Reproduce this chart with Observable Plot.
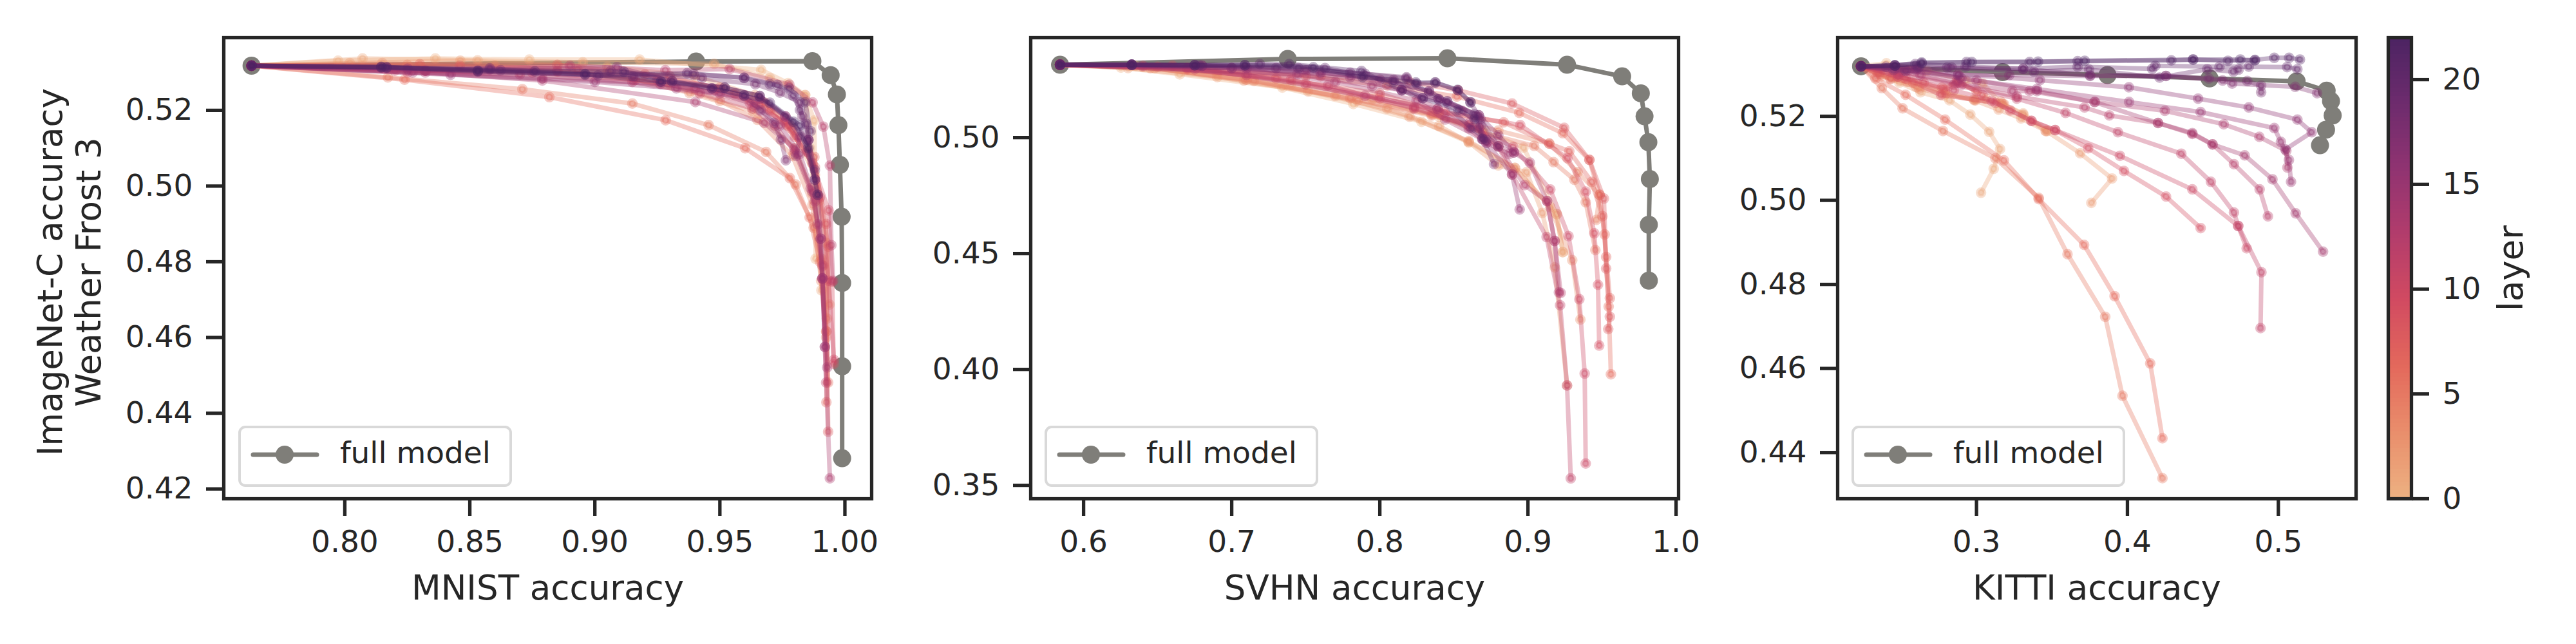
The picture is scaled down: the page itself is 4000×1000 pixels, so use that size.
<!DOCTYPE html>
<html>
<head>
<meta charset="utf-8">
<script src="https://cdn.jsdelivr.net/npm/d3@7"></script>
<script src="https://cdn.jsdelivr.net/npm/@observablehq/plot@0.6"></script>
<style>
  body { margin: 0; background: #fff; }
  #fig { position: relative; width: 4000px; height: 1000px; overflow: hidden; font-family: "DejaVu Sans"; color: #262626; }
  .panel { position: absolute; top: 0; }
  .panel svg { max-width: none; }
  .legend { position: absolute; top: 663px; height: 87px; width: 417px; box-sizing: content-box; border: 4px solid #d9d9d9; border-radius: 11px; background: #fff; margin: -2px; }
  .legend svg { position: absolute; left: 13px; top: 13px; }
  .legend span { position: absolute; left: 154px; top: 9px; font-size: 47px; line-height: 58px; white-space: nowrap; }
</style>
</head>
<body>
<div id="fig"></div>
<script>
const flare = ["#edb081", "#e98d6b", "#e3685c", "#d14a61", "#b13c6c", "#8f3371", "#6c2b6d", "#4b2362"]
const gray = "#7f7e79"
const ink = "#262626"

// values, curve index = layer
const mnistFull = [[.7627,.5318],[.9405,.5329],[.9870,.5330],[.9943,.5293],[.9968,.5242],[.9974,.5161],[.9980,.5056],[.9987,.4919],[.9989,.4744],[.9989,.4524],[.9989,.4281]]
const mnistCurves = [
  [[.7627,.5318],[.7973,.5331],[.8362,.5337],[.8738,.5334],[.9179,.5334],[.9665,.5307],[.9773,.5272],[.9841,.5240],[.9877,.5173],[.9882,.5000],[.9883,.4808]],
  [[.7627,.5318],[.8071,.5337],[.8531,.5332],[.8952,.5327],[.9477,.5323],[.9700,.5285],[.9841,.5240],[.9860,.5100],[.9895,.4960],[.9906,.4725]],
  [[.7627,.5318],[.8020,.5325],[.8462,.5331],[.9050,.5315],[.9400,.5290],[.9640,.5240],[.9780,.5160],[.9880,.5030],[.9925,.4850],[.9938,.4687]],
  [[.7627,.5318],[.8150,.5325],[.8600,.5318],[.9050,.5300],[.9378,.5246],[.9631,.5198],[.9800,.5100],[.9870,.4980],[.9915,.4790],[.9928,.4650]],
  [[.7627,.5318],[.8250,.5320],[.8850,.5305],[.9300,.5270],[.9500,.5225],[.9650,.5175],[.9790,.5080],[.9870,.4950],[.9905,.4750],[.9925,.4600]],
  [[.7627,.5318],[.8172,.5287],[.8710,.5256],[.9150,.5218],[.9455,.5161],[.9685,.5090],[.9803,.5004],[.9875,.4890],[.9906,.4808],[.9926,.4616]],
  [[.7627,.5318],[.8239,.5281],[.8818,.5235],[.9283,.5174],[.9601,.5100],[.9780,.5021],[.9859,.4917],[.9900,.4800],[.9925,.4616],[.9933,.4481]],
  [[.7627,.5318],[.8300,.5322],[.8850,.5320],[.9200,.5295],[.9500,.5260],[.9680,.5220],[.9790,.5150],[.9878,.5077],[.9933,.4840],[.9926,.4429]],
  [[.7627,.5318],[.8460,.5318],[.8930,.5308],[.9300,.5290],[.9560,.5245],[.9700,.5200],[.9800,.5130],[.9880,.5050],[.9925,.4900],[.9933,.4351]],
  [[.7627,.5318],[.8322,.5305],[.8850,.5303],[.9250,.5280],[.9480,.5255],[.9660,.5215],[.9770,.5160],[.9870,.5060],[.9935,.4936],[.9949,.4747],[.9955,.4530]],
  [[.7627,.5318],[.8200,.5305],[.8750,.5300],[.9160,.5280],[.9400,.5258],[.9620,.5220],[.9760,.5170],[.9850,.5090],[.9900,.4970],[.9935,.4750],[.9956,.4541]],
  [[.7627,.5318],[.8251,.5300],[.8700,.5295],[.9150,.5275],[.9420,.5245],[.9630,.5205],[.9720,.5160],[.9800,.5090],[.9880,.4960],[.9910,.4790],[.9925,.4481]],
  [[.7627,.5318],[.8322,.5305],[.8900,.5318],[.9282,.5306],[.9539,.5309],[.9778,.5268],[.9871,.5221],[.9914,.5157],[.9940,.5054],[.9946,.4844],[.9953,.4750]],
  [[.7627,.5318],[.8322,.5300],[.8790,.5279],[.9402,.5222],[.9678,.5167],[.9798,.5099],[.9863,.4994],[.9891,.4899],[.9910,.4756],[.9920,.4575],[.9940,.4228]],
  [[.7627,.5318],[.8271,.5300],[.8790,.5285],[.9262,.5270],[.9500,.5245],[.9640,.5215],[.9740,.5160],[.9820,.5085],[.9870,.4985],[.9903,.4861],[.9910,.4756],[.9929,.4521]],
  [[.7627,.5318],[.8423,.5294],[.9000,.5275],[.9326,.5258],[.9660,.5230],[.9762,.5184],[.9854,.5122],[.9880,.5017],[.9891,.4977],[.9903,.4861],[.9910,.4756],[.9920,.4575]],
  [[.7627,.5318],[.8251,.5310],[.8580,.5308],[.9088,.5314],[.9309,.5277],[.9519,.5260],[.9659,.5238],[.9762,.5184],[.9820,.5130],[.9805,.5080]],
  [[.7627,.5318],[.8167,.5312],[.8532,.5303],[.9153,.5289],[.9264,.5276],[.9468,.5258],[.9597,.5239],[.9663,.5200],[.9717,.5167],[.9744,.5123],[.9764,.5068]],
  [[.7627,.5318],[.8146,.5313],[.8623,.5306],[.9063,.5303],[.9428,.5285],[.9642,.5269],[.9740,.5247],[.9820,.5221],[.9829,.5184],[.9854,.5122],[.9880,.5042]],
  [[.7627,.5318],[.8167,.5313],[.8580,.5311],[.9013,.5292],[.9395,.5296],[.9597,.5286],[.9730,.5267],[.9794,.5239],[.9820,.5201],[.9846,.5164],[.9854,.5122]],
  [[.7627,.5318],[.8146,.5314],[.8532,.5303],[.8961,.5294],[.9369,.5298],[.9597,.5286],[.9700,.5269],[.9777,.5258],[.9841,.5221],[.9863,.5145]],
  [[.7627,.5318],[.8167,.5314],[.8760,.5303],[.9116,.5302],[.9309,.5277],[.9468,.5258],[.9597,.5239],[.9700,.5220],[.9820,.5160],[.9880,.5017]],
  [[.7627,.5318],[.8146,.5315],[.8532,.5305],[.8961,.5296],[.9264,.5276],[.9519,.5260],[.9659,.5238],[.9794,.5170],[.9854,.5100],[.9891,.4977]]
]

const svhnFull = [[.5841,.5314],[.7378,.5339],[.8456,.5342],[.9264,.5314],[.9636,.5264],[.9762,.5191],[.9787,.5092],[.9813,.4980],[.9823,.4821],[.9816,.4624],[.9816,.4383]]
const svhnCurves = [
  [[.5841,.5314],[.6252,.5302],[.6649,.5273],[.7342,.5216],[.7821,.5145],[.8281,.5068],[.8600,.4980],[.8912,.4869],[.9194,.4670],[.9235,.4506]],
  [[.5841,.5314],[.6350,.5310],[.6900,.5280],[.7400,.5230],[.7950,.5165],[.8400,.5090],[.8690,.5030],[.8970,.4957],[.9194,.4670],[.9235,.4506]],
  [[.5841,.5314],[.6300,.5300],[.6902,.5261],[.7515,.5199],[.8050,.5125],[.8400,.5050],[.8600,.4980],[.8800,.4880],[.8991,.4851],[.9097,.4675],[.9181,.4440],[.9264,.3931]],
  [[.5841,.5314],[.6480,.5300],[.7082,.5246],[.7700,.5180],[.8200,.5090],[.8600,.4985],[.8912,.4869],[.9150,.4700],[.9299,.4471],[.9354,.4215]],
  [[.5841,.5314],[.6450,.5300],[.7150,.5245],[.7850,.5160],[.8350,.5095],[.8800,.5030],[.9144,.4974],[.9336,.4851],[.9484,.4753],[.9462,.4645]],
  [[.5841,.5314],[.6400,.5305],[.7100,.5250],[.7800,.5170],[.8350,.5100],[.8700,.5020],[.9042,.4964],[.9173,.4894],[.9313,.4818],[.9390,.4721],[.9455,.4515]],
  [[.5841,.5314],[.6700,.5295],[.7500,.5265],[.8050,.5225],[.8520,.5177],[.8941,.5107],[.9235,.5019],[.9415,.4904],[.9484,.4753],[.9518,.4582],[.9545,.4271],[.9560,.3979]],
  [[.5841,.5314],[.6500,.5305],[.7300,.5255],[.8000,.5190],[.8400,.5110],[.8836,.5066],[.9144,.4974],[.9279,.4941],[.9431,.4809],[.9503,.4661],[.9528,.4485],[.9553,.4307]],
  [[.5841,.5314],[.6700,.5300],[.7600,.5265],[.8200,.5240],[.8528,.5204],[.8893,.5147],[.9245,.5042],[.9415,.4904],[.9513,.4737],[.9528,.4435],[.9553,.4227],[.9542,.4174]],
  [[.5841,.5314],[.6600,.5310],[.7400,.5250],[.8000,.5170],[.8440,.5110],[.8948,.5054],[.9267,.4911],[.9390,.4767],[.9448,.4587],[.9473,.4365],[.9481,.4103]],
  [[.5841,.5314],[.6700,.5300],[.7500,.5230],[.8231,.5130],[.8600,.5050],[.8900,.4960],[.9151,.4776],[.9274,.4575],[.9347,.4303],[.9383,.3982],[.9390,.3594]],
  [[.5841,.5314],[.6750,.5295],[.7650,.5225],[.8232,.5125],[.8668,.5040],[.8800,.4962],[.8893,.4841],[.9126,.4571],[.9217,.4277],[.9264,.3931],[.9289,.3530]],
  [[.5841,.5314],[.6400,.5310],[.7100,.5270],[.7900,.5180],[.8390,.5124],[.8607,.5064],[.8800,.4962],[.8977,.4795],[.9129,.4726],[.9180,.4554],[.9221,.4330]],
  [[.5841,.5314],[.7000,.5300],[.7700,.5240],[.8248,.5160],[.8441,.5078],[.8690,.4994],[.8905,.4936],[.9013,.4892],[.9129,.4726],[.9180,.4554],[.9209,.4332]],
  [[.5841,.5314],[.7443,.5273],[.7948,.5223],[.8146,.5206],[.8390,.5124],[.8600,.5040],[.8719,.4978],[.8873,.4929]],
  [[.5841,.5314],[.6800,.5310],[.7500,.5290],[.8000,.5250],[.8332,.5200],[.8557,.5115],[.8680,.5050],[.8719,.4978],[.8893,.4841],[.8944,.4690]],
  [[.5841,.5314],[.7100,.5300],[.7800,.5260],[.8148,.5204],[.8397,.5166],[.8668,.5096],[.8800,.5010],[.8905,.4936]],
  [[.5841,.5314],[.6325,.5314],[.7000,.5300],[.7600,.5280],[.8093,.5249],[.8289,.5170],[.8455,.5156],[.8668,.5096],[.8694,.4994],[.8771,.4886]],
  [[.5841,.5314],[.6325,.5314],[.6800,.5310],[.7300,.5300],[.7800,.5280],[.8180,.5260],[.8248,.5232],[.8376,.5237],[.8528,.5204],[.8612,.5152],[.8680,.5080],[.8800,.4962]],
  [[.5841,.5314],[.6325,.5314],[.6750,.5312],[.7450,.5300],[.7900,.5275],[.8180,.5255],[.8397,.5166],[.8620,.5040],[.8719,.4990]],
  [[.5841,.5314],[.6325,.5314],[.6780,.5312],[.7190,.5317],[.7630,.5300],[.8093,.5240],[.8332,.5200],[.8455,.5156],[.8640,.5100],[.8694,.4994]],
  [[.5841,.5314],[.6325,.5314],[.6750,.5312],[.7089,.5312],[.7388,.5317],[.7876,.5287],[.8148,.5204],[.8290,.5170],[.8530,.5120],[.8640,.5080]],
  [[.5841,.5314],[.6325,.5314],[.6750,.5312],[.7089,.5312],[.7551,.5303],[.7883,.5261],[.8243,.5238],[.8373,.5238],[.8525,.5206],[.8612,.5152]]
]

const kittiFull = [[.2235,.5319],[.3173,.5305],[.3868,.5298],[.4544,.5290],[.5121,.5283],[.5320,.5261],[.5349,.5236],[.5360,.5202],[.5316,.5168],[.5276,.5131]]
const kittiCurves = [
  [[.2235,.5319],[.2403,.5326],[.2672,.5308],[.2927,.5285],[.3040,.5278],[.3168,.5229],[.3309,.5207],[.3470,.5165]],
  [[.2235,.5319],[.2360,.5301],[.2488,.5280],[.2629,.5257],[.2821,.5238],[.2959,.5204],[.3084,.5163],[.3156,.5122],[.3114,.5075],[.3030,.5018]],
  [[.2235,.5319],[.2450,.5300],[.2799,.5255],[.2986,.5238],[.3146,.5216],[.3295,.5195],[.3462,.5165],[.3687,.5112],[.3898,.5052],[.3761,.4994]],
  [[.2235,.5319],[.2431,.5288],[.2601,.5270],[.2983,.5240],[.3061,.5242],[.3175,.5229],[.3309,.5204],[.3458,.5165]],
  [[.2235,.5319],[.2370,.5295],[.2540,.5282],[.2620,.5266],[.2790,.5252],[.2994,.5238],[.3160,.5235],[.3184,.5228]],
  [[.2235,.5319],[.2372,.5267],[.2510,.5219],[.2778,.5165],[.3125,.5100],[.3412,.5006],[.3603,.4872],[.3853,.4723],[.3967,.4535],[.4232,.4339]],
  [[.2235,.5319],[.2330,.5290],[.2530,.5251],[.2792,.5192],[.3182,.5095],[.3412,.5003],[.3713,.4894],[.3915,.4772],[.4151,.4612],[.4232,.4434]],
  [[.2235,.5319],[.2340,.5305],[.2430,.5290],[.2580,.5280],[.2770,.5268],[.2880,.5281],[.3000,.5260]],
  [[.2235,.5319],[.2350,.5300],[.2480,.5295],[.2650,.5280],[.2790,.5262],[.2870,.5285],[.3040,.5250]],
  [[.2235,.5319],[.2530,.5290],[.2764,.5251],[.3125,.5232],[.3224,.5214],[.3364,.5189],[.3521,.5167],[.3740,.5124],[.3977,.5070],[.4256,.5009],[.4485,.4934]],
  [[.2235,.5319],[.2480,.5295],[.2850,.5262],[.3100,.5237],[.3364,.5189],[.3521,.5167],[.3950,.5106],[.4430,.5026],[.4734,.4939],[.4790,.4886]],
  [[.2235,.5319],[.2480,.5300],[.2850,.5275],[.3267,.5242],[.3590,.5208],[.3937,.5162],[.4357,.5111],[.4553,.5044],[.4706,.4971],[.4734,.4939],[.4888,.4829],[.4882,.4696]],
  [[.2235,.5319],[.2500,.5305],[.2900,.5275],[.3267,.5247],[.3716,.5221],[.3880,.5202],[.4203,.5184],[.4430,.5158],[.4564,.5133],[.4706,.5086],[.4876,.5026],[.4931,.4962]],
  [[.2235,.5319],[.2629,.5298],[.2870,.5280],[.3238,.5260],[.3352,.5260],[.3785,.5234],[.4248,.5213],[.4638,.5181],[.4874,.5151],[.5053,.5118],[.5060,.5078]],
  [[.2235,.5319],[.2550,.5310],[.3000,.5285],[.3400,.5260],[.3781,.5234],[.4203,.5184],[.4430,.5160],[.4564,.5133],[.4777,.5107],[.4961,.5050],[.5115,.4969],[.5296,.4878]],
  [[.2235,.5319],[.2600,.5310],[.2900,.5290],[.3400,.5265],[.4011,.5234],[.4485,.5210],[.4973,.5172],[.5017,.5139],[.5070,.5096],[.5084,.5044]],
  [[.2235,.5319],[.2600,.5315],[.2880,.5300],[.3420,.5286],[.4010,.5269],[.4468,.5242],[.4804,.5221],[.5126,.5192],[.5221,.5162],[.5046,.5121]],
  [[.2235,.5319],[.2450,.5310],[.2877,.5298],[.3217,.5298],[.3753,.5296],[.4255,.5296],[.4631,.5285],[.4694,.5278],[.5112,.5270],[.5257,.5255]],
  [[.2235,.5319],[.2400,.5318],[.2530,.5308],[.2835,.5316],[.3309,.5313],[.3753,.5297],[.4255,.5296],[.4539,.5290],[.4794,.5284],[.4886,.5273],[.4886,.5257]],
  [[.2235,.5319],[.2459,.5320],[.2615,.5316],[.2806,.5316],[.3380,.5306],[.3746,.5311],[.4213,.5292],[.4529,.5312],[.4702,.5306],[.4737,.5311]],
  [[.2235,.5319],[.2459,.5321],[.2594,.5324],[.2927,.5318],[.3309,.5313],[.3670,.5318],[.4164,.5313],[.4185,.5320],[.4610,.5318],[.4804,.5318],[.5058,.5317],[.5126,.5312]],
  [[.2235,.5319],[.2459,.5321],[.2637,.5326],[.2934,.5329],[.3352,.5329],[.3670,.5331],[.4291,.5333],[.4435,.5335],[.4666,.5332],[.4846,.5334],[.4973,.5339],[.5071,.5339],[.5143,.5335]],
  [[.2235,.5319],[.2459,.5321],[.2637,.5328],[.2969,.5329],[.3408,.5330],[.3717,.5332],[.4435,.5335],[.4748,.5335],[.4843,.5333]]
]

const mnistTicksX = [.80, .85, .90, .95, 1.00]
const mnistTicksY = [.42, .44, .46, .48, .50, .52]
const svhnTicksX = [.6, .7, .8, .9, 1.0]
const svhnTicksY = [.35, .40, .45, .50]
const kittiTicksX = [.3, .4, .5]
const kittiTicksY = [.44, .46, .48, .50, .52]
const layerTicks = [0, 5, 10, 15, 20]
const maxLayer = 22

const flareScale = {
  type: "linear",
  domain: flare.map((c, i) => i * maxLayer / (flare.length - 1)),
  range: flare
}

const toRows = (pts, layer) => pts.map(([x, y]) => ({x, y, layer}))

function panel({left, right, full, curves, xDomain, yDomain, ticksX, ticksY, fmtX, label, yLabel}) {
  const marginLeft = 340, marginRight = 40
  const marks = [
    Plot.line(toRows(full, -1), {x: "x", y: "y", stroke: gray, strokeWidth: 7, strokeLinejoin: "round"}),
    Plot.dot(toRows(full, -1), {x: "x", y: "y", r: 14, fill: gray})
  ]
  curves.forEach((pts, layer) => {
    const rows = toRows(pts, layer)
    marks.push(
      Plot.line(rows, {x: "x", y: "y", stroke: "layer", strokeWidth: 7, strokeOpacity: 0.35, strokeLinejoin: "round"}),
      Plot.dot(rows, {x: "x", y: "y", r: 5.5, fill: "layer", stroke: "layer", fillOpacity: 0.35, strokeOpacity: 0.35, strokeWidth: 5.5})
    )
  })
  marks.push(
    Plot.axisX({ticks: ticksX, tickFormat: d3.format(fmtX), tickSize: 27, tickPadding: 22, strokeWidth: 5.3, stroke: ink, fill: ink, fontSize: 47, label: null}),
    Plot.axisY({ticks: ticksY, tickFormat: d3.format(".2f"), tickSize: 27, tickPadding: 21, strokeWidth: 5.3, stroke: ink, fill: ink, fontSize: 47, label: null}),
    Plot.frame({stroke: ink, strokeWidth: 5.3}),
    Plot.text([label], {frameAnchor: "bottom", lineAnchor: "bottom", dy: 156, fontSize: 53, fill: ink})
  )
  if (yLabel) marks.push(Plot.text([yLabel], {frameAnchor: "left", textAnchor: "middle", rotate: -90, dx: -241, dy: 6, lineHeight: 1.15, fontSize: 53, fill: ink}))
  return Plot.plot({
    width: marginLeft + (right - left) + marginRight,
    height: 1000,
    marginLeft, marginRight, marginTop: 58, marginBottom: 226,
    style: {fontFamily: "DejaVu Sans", background: "none", overflow: "visible"},
    x: {domain: xDomain, label: null},
    y: {domain: yDomain, label: null},
    color: flareScale,
    marks
  })
}

function colorbar() {
  const marginLeft = 20, marginRight = 280
  const steps = d3.range(0, maxLayer, 0.2)
  return Plot.plot({
    width: marginLeft + 36 + marginRight,
    height: 1000,
    marginLeft, marginRight, marginTop: 58, marginBottom: 226,
    style: {fontFamily: "DejaVu Sans", background: "none", overflow: "visible"},
    x: {domain: [0, 1], axis: null},
    y: {domain: [0, maxLayer], label: null},
    color: flareScale,
    marks: [
      Plot.rect(steps, {x1: 0, x2: 1, y1: d => d, y2: d => d + 0.22, fill: d => d, shapeRendering: "crispEdges"}),
      Plot.axisY({anchor: "right", ticks: layerTicks, tickSize: 27, tickPadding: 21, strokeWidth: 5.3, stroke: ink, fill: ink, fontSize: 47, label: null}),
      Plot.frame({stroke: ink, strokeWidth: 5.3}),
      Plot.text(["layer"], {frameAnchor: "right", textAnchor: "middle", rotate: -90, dx: 156, fontSize: 53, fill: ink})
    ]
  })
}

const fig = document.getElementById("fig")

function addPanel(svg, left) {
  const div = document.createElement("div")
  div.className = "panel"
  div.style.left = left + "px"
  div.style.width = svg.getAttribute("width") + "px"
  div.append(svg)
  fig.append(div)
}

function addLegend(left, width) {
  const div = document.createElement("div")
  div.className = "legend"
  div.style.left = left + "px"
  div.style.width = width + "px"
  div.innerHTML = '<svg width="110" height="60"><line x1="6" y1="28" x2="105" y2="28" stroke="' + gray + '" stroke-width="7" stroke-linecap="round"/><circle cx="55" cy="28" r="14" fill="' + gray + '"/></svg><span>full model</span>'
  fig.append(div)
}

addPanel(panel({left: 347, right: 1353, full: mnistFull, curves: mnistCurves, xDomain: [.7516, 1.0107], yDomain: [.4174, .5392],
  ticksX: mnistTicksX, ticksY: mnistTicksY, fmtX: ".2f", label: "MNIST accuracy", yLabel: "ImageNet-C accuracy\nWeather Frost 3"}), 347 - 340)
addPanel(panel({left: 1600, right: 2606, full: svhnFull, curves: svhnCurves, xDomain: [.5643, 1.0017], yDomain: [.3442, .5431],
  ticksX: svhnTicksX, ticksY: svhnTicksY, fmtX: ".1f", label: "SVHN accuracy"}), 1600 - 340)
addPanel(panel({left: 2853, right: 3658, full: kittiFull, curves: kittiCurves, xDomain: [.2080, .5515], yDomain: [.4290, .5387],
  ticksX: kittiTicksX, ticksY: kittiTicksY, fmtX: ".1f", label: "KITTI accuracy"}), 2853 - 340)
addPanel(colorbar(), 3708 - 20)

addLegend(372, 417)
addLegend(1624, 417)
addLegend(2877, 417)
</script>
</body>
</html>
